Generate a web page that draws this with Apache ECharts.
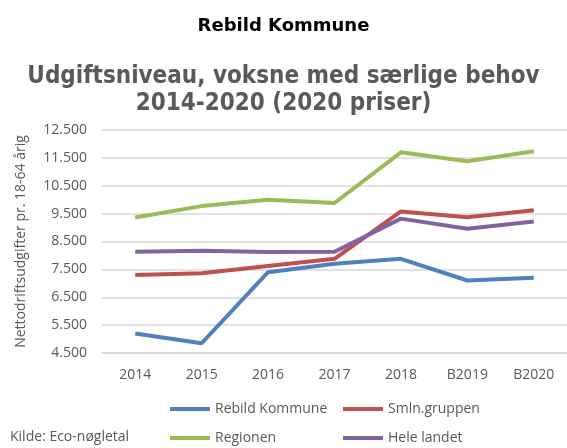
<!DOCTYPE html>
<html>
<head>
<meta charset="utf-8">
<script src="https://cdn.jsdelivr.net/npm/echarts@6/dist/echarts.min.js"></script>
<style>
  html, body { margin: 0; padding: 0; background: #fff; }
  #chart { width: 567px; height: 448px; }
</style>
</head>
<body>
<div id="chart"></div>
<script>
var years = ['2014', '2015', '2016', '2017', '2018', 'B2019', 'B2020'];
var rebild = [5200, 4850, 7400, 7700, 7880, 7100, 7200];
var smln = [7300, 7360, 7620, 7880, 9580, 9370, 9620];
var regionen = [9360, 9770, 10000, 9880, 11700, 11380, 11740];
var heleLandet = [8130, 8170, 8120, 8130, 9320, 8960, 9220];

var grey = '#595959';

// 12500 -> "12.500"
function dkTal(v) {
    var t = Math.floor(v / 1000);
    var r = String(v % 1000);
    while (r.length < 3) r = '0' + r;
    return t + '.' + r;
}

function linje(navn, data, farve) {
    return {
        name: navn,
        type: 'line',
        data: data,
        symbol: 'none',
        lineStyle: { width: 4, color: farve },
        itemStyle: { color: farve }
    };
}

function legende(navn, left, top) {
    return {
        data: [navn],
        left: left,
        top: top,
        icon: 'rect',
        itemWidth: 40,
        itemHeight: 4,
        padding: 0,
        textStyle: { color: grey, fontSize: 14, fontFamily: 'Open Sans' }
    };
}

var chart = echarts.init(document.getElementById('chart'));
chart.setOption({
    animation: false,
    title: [{
        text: 'Rebild Kommune',
        left: 'center',
        top: 12,
        textStyle: { color: '#000', fontSize: 18, fontWeight: 'bold', fontFamily: 'DejaVu Sans' }
    }, {
        text: 'Udgiftsniveau, voksne med særlige behov\n2014-2020 (2020 priser)',
        left: 'center',
        top: 58,
        textStyle: {
            color: grey, fontSize: 24, fontWeight: 'bold',
            fontFamily: 'DejaVu Sans Condensed', lineHeight: 27
        }
    }],
    legend: [
        legende('Rebild Kommune', 170, 402),
        legende('Smln.gruppen', 343, 402),
        legende('Regionen', 170, 431),
        legende('Hele landet', 343, 431)
    ],
    graphic: [{
        type: 'text',
        left: 10,
        top: 430,
        style: { text: 'Kilde: Eco-nøgletal', fill: grey, fontSize: 14, fontFamily: 'Open Sans' }
    }],
    grid: { left: 102, right: -1, top: 130, bottom: 95 },
    xAxis: {
        type: 'category',
        data: years,
        axisTick: { show: false },
        axisLine: { lineStyle: { color: '#d9d9d9', width: 1.5 } },
        axisLabel: { color: grey, fontSize: 14, margin: 15, fontFamily: 'Open Sans' }
    },
    yAxis: {
        type: 'value',
        min: 4500,
        max: 12500,
        interval: 1000,
        name: 'Nettodriftsudgifter pr. 18-64 årig',
        nameLocation: 'middle',
        nameGap: 74,
        nameTextStyle: { color: grey, fontSize: 14, fontFamily: 'Open Sans' },
        axisLine: { show: false },
        axisTick: { show: false },
        splitLine: { lineStyle: { color: '#d9d9d9', width: 1.5 } },
        axisLabel: { color: grey, fontSize: 14, margin: 15, fontFamily: 'Open Sans', formatter: dkTal }
    },
    series: [
        linje('Rebild Kommune', rebild, '#4F81BD'),
        linje('Smln.gruppen', smln, '#C0504D'),
        linje('Regionen', regionen, '#9BBB59'),
        linje('Hele landet', heleLandet, '#8064A2')
    ]
});
</script>
</body>
</html>
